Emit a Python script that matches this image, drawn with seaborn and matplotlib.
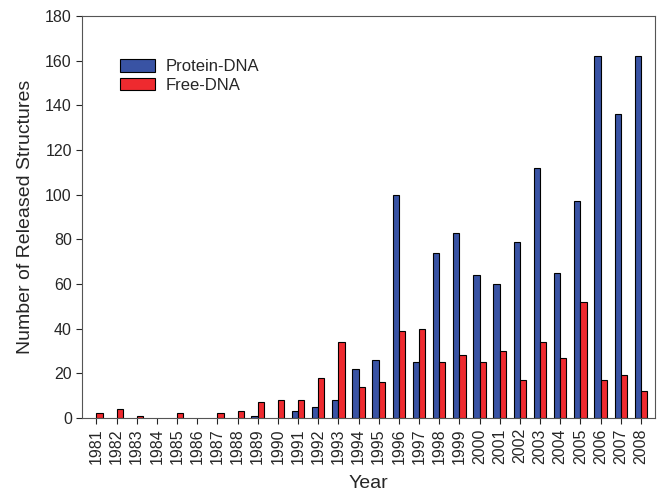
import numpy as np
import pandas as pd
import matplotlib.pyplot as plt
import seaborn as sns

years = [str(y) for y in range(1981, 2009)]
protein_dna = [0, 0, 0, 0, 0, 0, 0, 0, 1, 0, 3, 5, 8, 22, 26, 100, 25, 74, 83, 64,
               60, 79, 112, 65, 97, 162, 136, 162]
free_dna = [2, 4, 1, 0, 2, 0, 2, 3, 7, 8, 8, 18, 34, 14, 16, 39, 40, 25, 28, 25,
            30, 17, 34, 27, 52, 17, 19, 12]
series_names = ["Protein-DNA", "Free-DNA"]

sns.set_style("ticks")
plt.rcParams['font.family'] = ['Liberation Sans', 'DejaVu Sans']

df = pd.DataFrame({
    "Year": years * 2,
    "count": protein_dna + free_dna,
    "type": [series_names[0]] * len(years) + [series_names[1]] * len(years),
})
# zero-count bars would otherwise show a flat edge line
df["count"] = df["count"].replace(0, np.nan)

fig = plt.figure(figsize=(6.63, 5.04), dpi=100)
ax = fig.add_axes([0.124, 0.171, 0.864, 0.797])

sns.barplot(data=df, x="Year", y="count", hue="type", order=years,
            hue_order=series_names, palette=["#3953A4", "#EE2A2F"],
            saturation=1, width=0.62, edgecolor="black", linewidth=0.8, ax=ax)

ax.set_ylim(0, 180)
ax.set_yticks(range(0, 181, 20))
ax.set_xlim(-0.7, len(years) - 0.3)
ax.tick_params(axis='x', labelrotation=90, labelsize=11.5, direction='out', length=4)
ax.tick_params(axis='y', labelsize=11.5, direction='out', length=4)
ax.set_xlabel("Year", fontsize=14, labelpad=8)
ax.set_ylabel("Number of Released Structures", fontsize=14, labelpad=8)
for s in ax.spines.values():
    s.set_color("#555555")

leg = ax.legend(loc='upper left', bbox_to_anchor=(0.04, 0.93), frameon=False,
                fontsize=12, handlelength=2.1, handleheight=0.8, handletextpad=0.6,
                labelspacing=0.2)

plt.savefig("out.png", dpi=100)
